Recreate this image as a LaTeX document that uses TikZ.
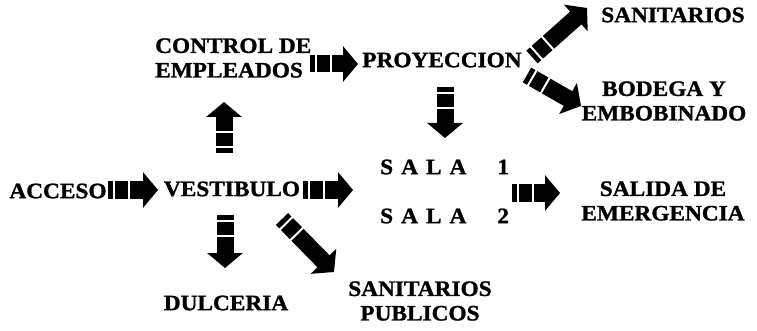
\documentclass[tikz,border=0pt]{standalone}
\usepackage{fontspec}
\setmainfont{Liberation Serif}[FakeStretch=1.06, BoldFeatures={FakeBold=1.2}]
\usetikzlibrary{arrows.meta,decorations.markings}
\tikzset{
  lbl/.style={font=\bfseries\fontsize{22}{24.5}\selectfont, inner sep=0pt, align=center},
  stripe/.style={white, line width=2pt, -},
  barrow/.style={line width=17pt, -{Triangle[length=15pt,width=35pt]},
    postaction={decorate},
    decoration={markings,
      mark=at position 6pt with {\draw[stripe] (0pt,-9pt) -- (0pt,9pt);},
      mark=at position 21pt with {\draw[stripe] (0pt,-9pt) -- (0pt,9pt);}}}
}
\begin{document}
\begin{tikzpicture}[x=1pt,y=-1pt]
\fill[white] (0,0) rectangle (757,331);
\useasboundingbox (0,0) rectangle (757,331);
% labels
\node[lbl] (acceso) at (58,191) {ACCESO};
\node[lbl] (vestibulo) at (232,189) {VESTIBULO};
\node[lbl, anchor=west, align=left] (control) at (155,58) {CONTROL DE\\EMPLEADOS};
\node[lbl] (proyeccion) at (442,60) {PROYECCION};
\node[lbl, anchor=west] (sala1) at (380,167) {S\hspace{8pt}A\hspace{8pt}L\hspace{8pt}A\hspace{31pt}1};
\node[lbl, anchor=west] (sala2) at (380,216) {S\hspace{8pt}A\hspace{8pt}L\hspace{8pt}A\hspace{31pt}2};
\node[lbl] (salida) at (663,201) {SALIDA DE\\EMERGENCIA};
\node[lbl] (sanit) at (673,15) {SANITARIOS};
\node[lbl] (bodega) at (664,101) {BODEGA Y\\EMBOBINADO};
\node[lbl] (dulceria) at (226,303) {DULCERIA};
\node[lbl] (sanpub) at (420,301) {SANITARIOS\\PUBLICOS};
% arrow ends
\coordinate (a1s) at (108,190); \coordinate (a1e) at (158,190);
\coordinate (a2s) at (303,190); \coordinate (a2e) at (353,190);
\coordinate (a3s) at (310,64);  \coordinate (a3e) at (358,64);
\coordinate (a4s) at (512,193); \coordinate (a4e) at (560,193);
\coordinate (ups) at (224,153); \coordinate (upe) at (224,102);
\coordinate (dvs) at (225,215); \coordinate (dve) at (225,268);
\coordinate (dgs) at (282,219); \coordinate (dge) at (334,272);
\coordinate (dps) at (445,87);  \coordinate (dpe) at (445,138);
\coordinate (urs) at (532,57);  \coordinate (ure) at (587,8);
\coordinate (drs) at (527,75);  \coordinate (dre) at (581,106);
% arrows
\draw[barrow] (a1s) -- (a1e);
\draw[barrow] (a2s) -- (a2e);
\draw[barrow] (a3s) -- (a3e);
\draw[barrow] (a4s) -- (a4e);
\draw[barrow] (ups) -- (upe);
\draw[barrow] (dvs) -- (dve);
\draw[barrow] (dgs) -- (dge);
\draw[barrow] (dps) -- (dpe);
\draw[barrow] (urs) -- (ure);
\draw[barrow] (drs) -- (dre);
\end{tikzpicture}
\end{document}
